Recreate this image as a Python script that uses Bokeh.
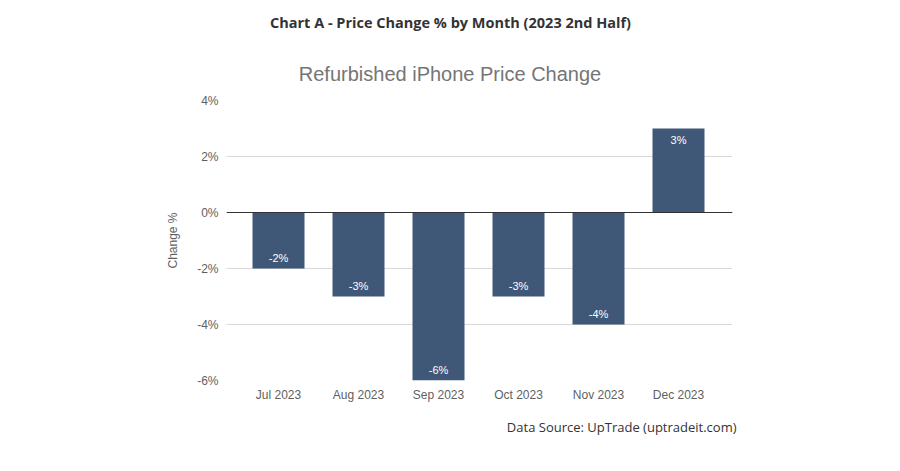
from bokeh.plotting import figure
from bokeh.layouts import column
from bokeh.models import FixedTicker, Span, ColumnDataSource, Title
from bokeh.core.properties import value
from bokeh.embed import file_html
from bokeh.resources import INLINE

months = ["Jul 2023", "Aug 2023", "Sep 2023", "Oct 2023", "Nov 2023", "Dec 2023"]
changes = [-2, -3, -6, -3, -4, 3]
y_ticks = [-6, -4, -2, 0, 2, 4]

header_title = "Chart A - Price Change % by Month (2023 2nd Half)"
chart_title = "Refurbished iPhone Price Change"
source_note = "Data Source: UpTrade (uptradeit.com)"

pos = list(range(len(months)))
labels = [f"{v}%" for v in changes]
offsets = [-11 if v < 0 else 11 for v in changes]
src = ColumnDataSource(dict(x=pos, top=changes, label=labels, yo=offsets))

W = 900
FL, FR = 226, 732  # frame left/right on the page


def blank(height, y0):
    f = figure(width=W, height=height, output_backend="svg", toolbar_location=None,
               x_range=(FL, FR), y_range=(y0 + height, y0),
               x_axis_location=None, y_axis_location=None, min_border=0,
               min_border_left=FL, min_border_right=W - FR)
    f.outline_line_color = None
    f.xgrid.visible = False
    f.ygrid.visible = False
    return f


# header (page y 0..90)
hd = blank(90, 0)
hd.text(x=[450], y=[22], text=[header_title], text_align="center",
        text_baseline="middle", text_font=value("Open Sans"),
        text_font_style="bold", text_font_size="14.5px", text_color="#333333")
hd.text(x=[449.5], y=[73], text=[chart_title], text_align="center",
        text_baseline="middle", text_font=value("Liberation Sans"),
        text_font_size="20px", text_color="#757575")

# chart (page y 90..416)
p = figure(width=W, height=326, output_backend="svg", toolbar_location=None,
           x_range=(-0.65, 5.675), y_range=(-6, 4),
           min_border_left=FL, min_border_right=W - FR,
           min_border_top=10, min_border_bottom=36)
p.outline_line_color = None

p.vbar(x="x", top="top", bottom=0, width=0.65, source=src,
       fill_color="#3f5878", line_color=None)
p.text(x="x", y="top", text="label", source=src, y_offset="yo",
       text_align="center", text_baseline="middle", text_color="white",
       text_font=value("Liberation Sans"), text_font_size="11px")

p.add_layout(Span(location=0, dimension="width", line_color="#333333", line_width=1))

p.xgrid.grid_line_color = None
p.ygrid.grid_line_color = "#d9d9d9"
p.ygrid.ticker = FixedTicker(ticks=y_ticks)

p.xaxis.ticker = FixedTicker(ticks=pos)
p.xaxis.major_label_overrides = {i: m for i, m in enumerate(months)}
p.yaxis.ticker = FixedTicker(ticks=y_ticks)
p.yaxis.major_label_overrides = {t: f"{t}%" for t in y_ticks}
for ax in (p.xaxis, p.yaxis):
    ax.axis_line_color = None
    ax.major_tick_line_color = None
    ax.minor_tick_line_color = None
    ax.major_tick_out = 0
    ax.major_tick_in = 0
    ax.major_label_text_font = "Liberation Sans"
    ax.major_label_text_font_size = "12px"
    ax.major_label_text_color = "#5f5f5f"
p.yaxis.major_label_standoff = 8
p.xaxis.major_label_standoff = 7
p.yaxis.axis_label = "Change %"
p.yaxis.axis_label_text_font = "Liberation Sans"
p.yaxis.axis_label_text_font_size = "12px"
p.yaxis.axis_label_text_font_style = "normal"
p.yaxis.axis_label_text_color = "#5f5f5f"
p.yaxis.axis_label_standoff = 14

# footer (page y 416..466): a title, so the text may pass the frame edge
ft = blank(50, 416)
ft.title = Title(text=source_note, align="right", offset=-4,
                 vertical_align="middle", standoff=0,
                 text_font="Open Sans", text_font_style="normal",
                 text_font_size="13px", text_color="#333333")

layout = column(hd, p, ft, spacing=0)
open("out.html", "w").write(file_html(layout, INLINE))
